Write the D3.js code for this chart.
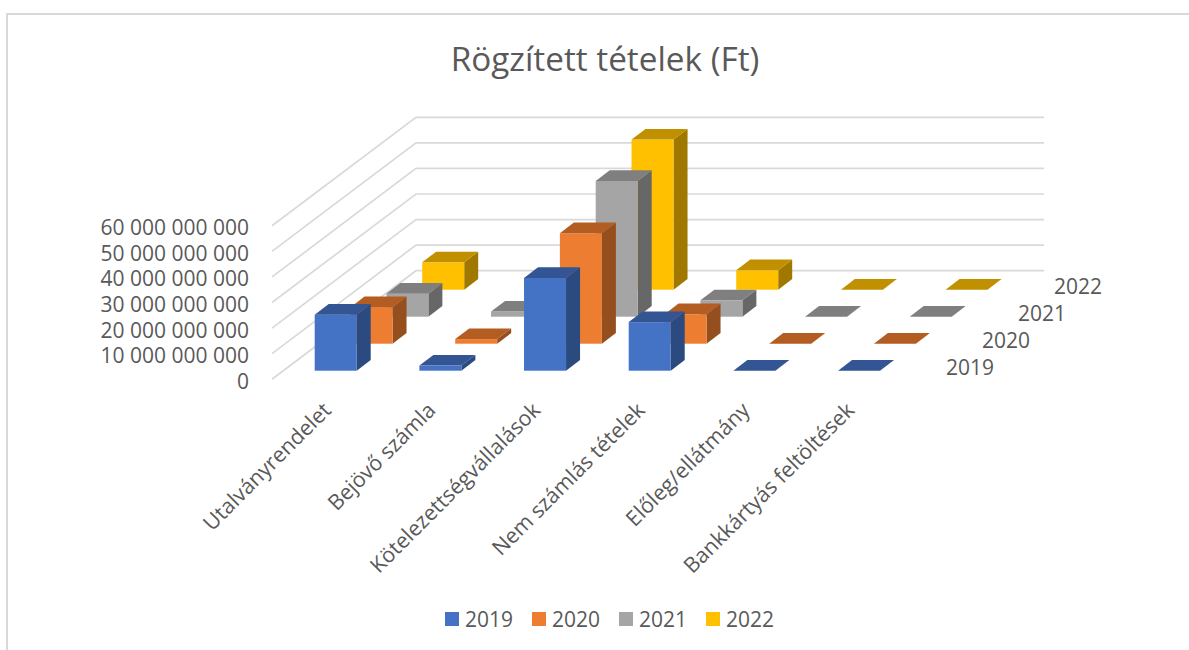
<!DOCTYPE html>
<html><head><meta charset="utf-8">
<script src="https://cdnjs.cloudflare.com/ajax/libs/d3/7.8.5/d3.min.js"></script>
<style>html,body{margin:0;padding:0;background:#fff}svg{display:block}text{font-family:"Open Sans",sans-serif}</style>
</head><body><svg id="c" width="1189" height="650"></svg>
<script>
const title = "Rögzített tételek (Ft)";
const categories = ["Utalványrendelet","Bejövő számla","Kötelezettségvállalások","Nem számlás tételek","Előleg/ellátmány","Bankkártyás feltöltések"];
const years = ["2019","2020","2021","2022"];
const v2019 = [21.9e9, 2.0e9, 36.3e9, 19.0e9, 0, 0];
const v2020 = [14.3e9, 1.8e9, 43.2e9, 11.5e9, 0, 0];
const v2021 = [9.0e9, 2.0e9, 53.1e9, 6.4e9, 0, 0];
const v2022 = [10.7e9, 0, 58.7e9, 7.6e9, 0, 0];
const seriesValues = [v2019, v2020, v2021, v2022];
const yTicks = [0,1e10,2e10,3e10,4e10,5e10,6e10];
const faces = [
  {front:"#4472C4", top:"#335593", side:"#2A4A80"},
  {front:"#ED7D31", top:"#B45D22", side:"#954F1E"},
  {front:"#A5A5A5", top:"#7F7F7F", side:"#676767"},
  {front:"#FFC000", top:"#C09000", side:"#A07800"}
];

const svg = d3.select("#c");
const barW = 42, depthX = 14, depthY = 10.7;
const x = d3.scaleLinear().domain([0, categories.length]).range([314.7, 314.7 + 104.67*categories.length]);
const sx = d3.scaleLinear().domain([0, 3]).range([0, 107.5]);
const sy = d3.scaleLinear().domain([0, 3]).range([370.7, 289.7]);
const h = d3.scaleLinear().domain([0, 6e10]).range([0, 153.4]);
const backBase = 270.7, wallX = 416, wallRight = 1044, frontX = 272, frontBase = 379.2;

// outer frame: only the top and left edges are visible in the reference
svg.append("path").attr("d","M7,650V14H1189").attr("fill","none").attr("stroke","#d9d9d9").attr("stroke-width",2);

// gridlines
const grid = svg.append("g").attr("fill","none").attr("stroke","#d9d9d9").attr("stroke-width",1.7);
grid.selectAll("path").data(yTicks).join("path")
  .attr("d", d => `M${frontX},${frontBase-h(d)}L${wallX},${backBase-h(d)}H${wallRight}`);

// value axis
const yAxis = d3.axisLeft(d3.scaleLinear().domain([0,6e10]).range([0,-153.4]))
  .tickValues(yTicks).tickSize(0).tickPadding(0)
  .tickFormat(d => d3.format(",")(d).replace(/,/g," "));
const ya = svg.append("g").attr("transform","translate(249,381.5)").call(yAxis);
ya.select(".domain").remove();
ya.selectAll("text").attr("fill","#595959").style("font-size","21px").style("font-family",'"Open Sans",sans-serif');

// bars, back row first
const rows = svg.selectAll("g.row").data(d3.range(3,-1,-1)).join("g").attr("class","row");
rows.each(function(s){
  const g = d3.select(this);
  const bars = categories.map((c,i)=>({i, v:seriesValues[s][i]}));
  const bg = g.selectAll("g").data(bars).join("g");
  bg.each(function(b){
    const x0 = x(b.i)+sx(s), y0 = sy(s), H = h(b.v), x1 = x0+barW, yt = y0-H;
    const e = d3.select(this);
    if (H>0){
      e.append("path").attr("d",`M${x1},${y0}L${x1+depthX},${y0-depthY}V${yt-depthY}L${x1},${yt}Z`).attr("fill",faces[s].side);
      e.append("rect").attr("x",x0).attr("y",yt).attr("width",barW).attr("height",H).attr("fill",faces[s].front);
    }
    e.append("path").attr("d",`M${x0},${yt}L${x0+depthX},${yt-depthY}H${x1+depthX}L${x1},${yt}Z`).attr("fill",faces[s].top);
  });
});

// title
svg.append("text").attr("x",605).attr("y",70.5).attr("text-anchor","middle").attr("fill","#595959").style("font-size","33.3px").text(title);

// category labels
svg.append("g").selectAll("text").data(categories).join("text")
  .attr("text-anchor","end").attr("fill","#595959").style("font-size","21.3px")
  .attr("transform",(d,i)=>`translate(${x(i)+7},${401}) rotate(-45)`).attr("dy","0.7em").text(d=>d);

// depth labels
svg.append("g").selectAll("text").data(years).join("text")
  .attr("x",(d,i)=>946+36*i).attr("y",(d,i)=>374.5-27*i).attr("fill","#595959").style("font-size","21px").text(d=>d);

// legend
const lg = svg.append("g").selectAll("g").data(years).join("g").attr("transform",(d,i)=>`translate(${445+87*i},0)`);
lg.append("rect").attr("y",612).attr("width",14).attr("height",14).attr("fill",(d,i)=>faces[i].front);
lg.append("text").attr("x",20).attr("y",626.5).attr("fill","#595959").style("font-size","21px").text(d=>d);
</script></body></html>
